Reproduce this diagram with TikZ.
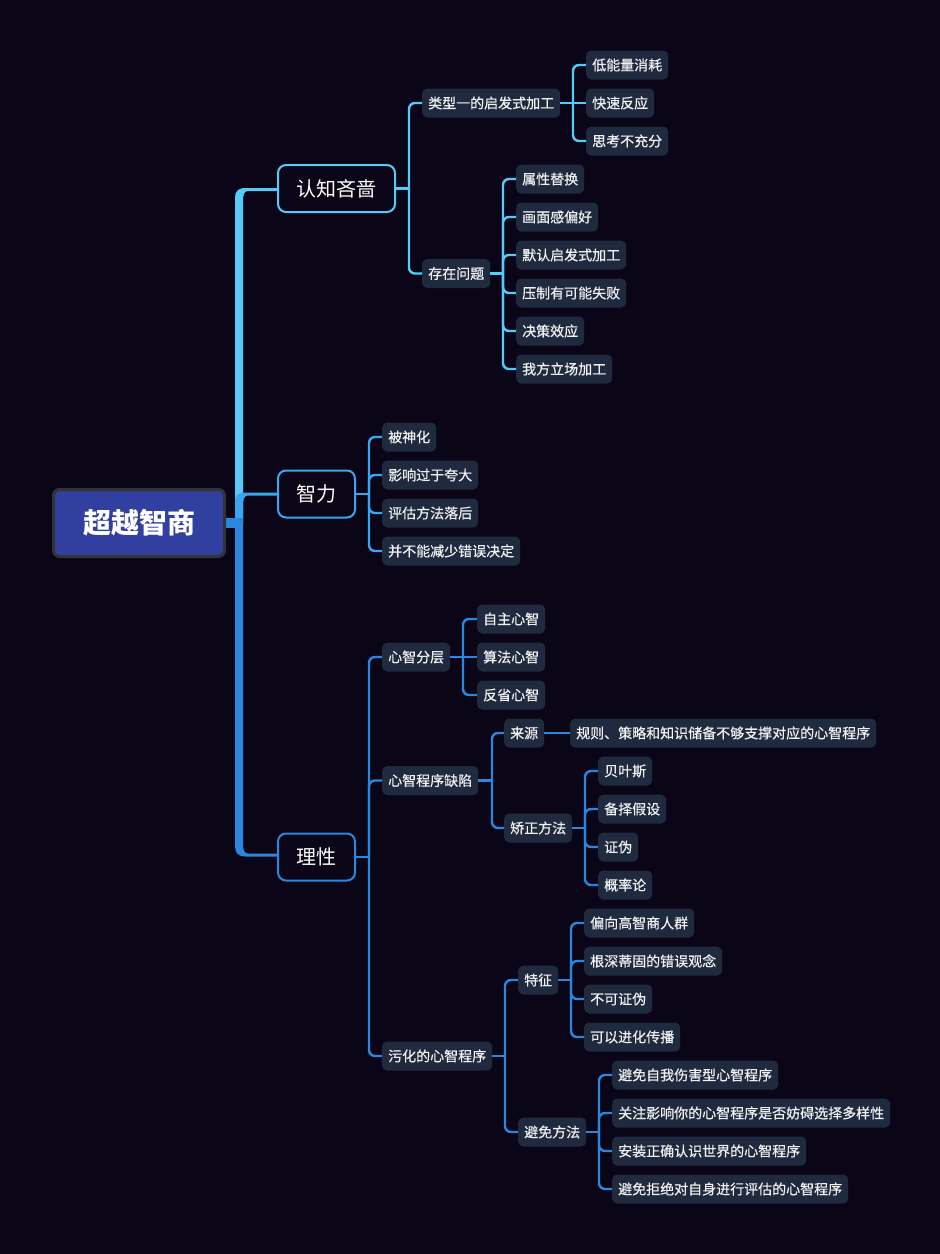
\documentclass[tikz,border=0pt]{standalone}
\usepackage{fontspec}
\newfontfamily\cjk{Noto Sans CJK SC}
\newfontfamily\cjkm{Noto Sans CJK SC}[FakeBold=0.6]
\definecolor{bgc}{HTML}{0B0617}
\definecolor{leafc}{HTML}{1F2A3F}
\definecolor{cA}{HTML}{58CAFA}
\definecolor{cB}{HTML}{3AA6EF}
\definecolor{cC}{HTML}{2A86DE}
\definecolor{rootc}{HTML}{3140A0}
\definecolor{rootb}{HTML}{333333}
\definecolor{txt}{HTML}{F0F0F0}
\tikzset{
  leaf/.style={fill=leafc, rounded corners=5, inner xsep=6, inner ysep=0,
    minimum height=29, text=txt, anchor=west,
    font=\cjkm\fontsize{14}{16}\selectfont},
  mainnode/.style={fill=bgc, line width=2, rounded corners=8, inner xsep=18.5,
    inner ysep=0, minimum height=47, text=white,
    font=\cjk\fontsize{20}{22}\selectfont},
  rootnode/.style={fill=rootc, draw=rootb, line width=3, rounded corners=6,
    minimum width=171, minimum height=67, text=white,
    font=\cjk\bfseries\fontsize{28}{30}\selectfont},
  lk/.style={line width=2.4, rounded corners=6},
}
\begin{document}
\begin{tikzpicture}[x=1pt,y=-1pt]
\fill[bgc] (0,0) rectangle (940,1254);
\useasboundingbox (0,0) rectangle (940,1254);

% trunk
\fill[cA] (235,523) -- (235,198) .. controls (235,191) and (238,188) .. (246,188) -- (278,188) -- (278,191) -- (248,191) .. controls (244.5,191) and (243,194.5) .. (243,200) -- (243,523) -- cycle;
\fill[cC] (235,520) -- (235,846) .. controls (235,853) and (238,856.5) .. (246,856.5) -- (278,856.5) -- (278,853.5) -- (248,853.5) .. controls (244.5,853.5) and (243,850) .. (243,844) -- (243,520) -- cycle;
\fill[cB] (235,523) -- (235,502) .. controls (235,495) and (238,492.5) .. (246,492.5) -- (278,492.5) -- (278,495.5) -- (248,495.5) .. controls (244.5,495.5) and (243,499) .. (243,504) -- (243,523) -- cycle;
\fill[cC] (224,518) rectangle (243,528);

\node[rootnode] (R) at (139,523) {超越智商};

% ---------- branch A
\node[mainnode, draw=cA] (A) at (336.5,188.5) {认知吝啬};
\coordinate (bA) at (409,0);
\node[leaf] (A1) at (422,103) {类型一的启发式加工};
\node[leaf] (A2) at (422,273.5) {存在问题};
\draw[lk, cA] (A.east) -- (A.east -| bA);
\foreach \c in {A1,A2} \draw[lk, cA] (A.east -| bA) |- (\c.west);

\coordinate (bA1) at (573,0);
\node[leaf] (A11) at (586,65) {低能量消耗};
\node[leaf] (A12) at (586,103) {快速反应};
\node[leaf] (A13) at (586,141) {思考不充分};
\draw[lk, cA] (A1.east) -- (A12.west);
\foreach \c in {A11,A13} \draw[lk, cA] (A1.east -| bA1) |- (\c.west);

\coordinate (bA2) at (503,0);
\node[leaf] (A21) at (516,179) {属性替换};
\node[leaf] (A22) at (516,217) {画面感偏好};
\node[leaf] (A23) at (516,255) {默认启发式加工};
\node[leaf] (A24) at (516,293) {压制有可能失败};
\node[leaf] (A25) at (516,331) {决策效应};
\node[leaf] (A26) at (516,369) {我方立场加工};
\draw[lk, cA] (A2.east) -- (A2.east -| bA2);
\foreach \c in {A21,A22,A23,A24,A25,A26} \draw[lk, cA] (A2.east -| bA2) |- (\c.west);

% ---------- branch B
\node[mainnode, draw=cB] (B) at (316.5,494) {智力};
\coordinate (bB) at (369,0);
\node[leaf] (B1) at (382,437) {被神化};
\node[leaf] (B2) at (382,475) {影响过于夸大};
\node[leaf] (B3) at (382,513) {评估方法落后};
\node[leaf] (B4) at (382,551) {并不能减少错误决定};
\draw[lk, cB] (B.east) -- (B.east -| bB);
\foreach \c in {B1,B2,B3,B4} \draw[lk, cB] (B.east -| bB) |- (\c.west);

% ---------- branch C
\node[mainnode, draw=cC] (C) at (316.5,857) {理性};
\coordinate (bC) at (369,0);
\node[leaf] (C1) at (382,657) {心智分层};
\node[leaf] (C2) at (382,780.5) {心智程序缺陷};
\node[leaf] (C3) at (382,1056) {污化的心智程序};
\draw[lk, cC] (C.east) -- (C.east -| bC);
\foreach \c in {C1,C2,C3} \draw[lk, cC] (C.east -| bC) |- (\c.west);

\coordinate (bC1) at (463,0);
\node[leaf] (C11) at (477,619) {自主心智};
\node[leaf] (C12) at (477,657) {算法心智};
\node[leaf] (C13) at (477,695) {反省心智};
\draw[lk, cC] (C1.east) -- (C12.west);
\foreach \c in {C11,C13} \draw[lk, cC] (C1.east -| bC1) |- (\c.west);

\coordinate (bC2) at (492,0);
\node[leaf] (C21) at (504,733) {来源};
\node[leaf] (C22) at (504,828) {矫正方法};
\draw[lk, cC] (C2.east) -- (C2.east -| bC2);
\foreach \c in {C21,C22} \draw[lk, cC] (C2.east -| bC2) |- (\c.west);

\node[leaf] (C211) at (570,733) {规则、策略和知识储备不够支撑对应的心智程序};
\draw[lk, cC] (C21.east) -- (C211.west);

\coordinate (bC22) at (585,0);
\node[leaf] (C221) at (598,771) {贝叶斯};
\node[leaf] (C222) at (598,809) {备择假设};
\node[leaf] (C223) at (598,847) {证伪};
\node[leaf] (C224) at (598,885) {概率论};
\draw[lk, cC] (C22.east) -- (C22.east -| bC22);
\foreach \c in {C221,C222,C223,C224} \draw[lk, cC] (C22.east -| bC22) |- (\c.west);

\coordinate (bC3) at (505,0);
\node[leaf] (C31) at (518,980) {特征};
\node[leaf] (C32) at (518,1132) {避免方法};
\draw[lk, cC] (C3.east) -- (C3.east -| bC3);
\foreach \c in {C31,C32} \draw[lk, cC] (C3.east -| bC3) |- (\c.west);

\coordinate (bC31) at (571,0);
\node[leaf] (C311) at (584,923) {偏向高智商人群};
\node[leaf] (C312) at (584,961) {根深蒂固的错误观念};
\node[leaf] (C313) at (584,999) {不可证伪};
\node[leaf] (C314) at (584,1037) {可以进化传播};
\draw[lk, cC] (C31.east) -- (C31.east -| bC31);
\foreach \c in {C311,C312,C313,C314} \draw[lk, cC] (C31.east -| bC31) |- (\c.west);

\coordinate (bC32) at (599,0);
\node[leaf] (C321) at (612,1075) {避免自我伤害型心智程序};
\node[leaf] (C322) at (612,1113) {关注影响你的心智程序是否妨碍选择多样性};
\node[leaf] (C323) at (612,1151) {安装正确认识世界的心智程序};
\node[leaf] (C324) at (612,1189) {避免拒绝对自身进行评估的心智程序};
\draw[lk, cC] (C32.east) -- (C32.east -| bC32);
\foreach \c in {C321,C322,C323,C324} \draw[lk, cC] (C32.east -| bC32) |- (\c.west);
\end{tikzpicture}
\end{document}
